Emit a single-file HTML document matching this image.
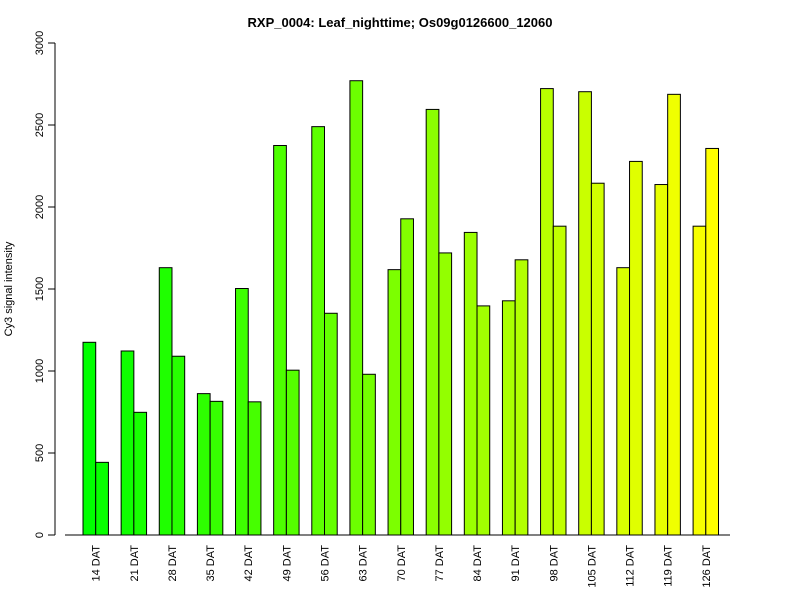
<!DOCTYPE html>
<html><head><meta charset="utf-8"><style>
body{margin:0;background:#fff}
svg{display:block;font-family:"Liberation Sans",Arial,sans-serif}
</style></head><body>
<svg id="chart" width="800" height="600" viewBox="0 0 800 600">
<rect width="800" height="600" fill="#fff"/>
<text x="400" y="27" text-anchor="middle" font-size="13" font-weight="bold">RXP_0004: Leaf_nighttime; Os09g0126600_12060</text>
<text transform="translate(12,289) rotate(-90)" text-anchor="middle" font-size="11">Cy3 signal intensity</text>
<g id="yaxis"></g>
<g id="bars"></g>
<g id="xlabels"></g>
</svg>
<script>
const categories=["14 DAT","21 DAT","28 DAT","35 DAT","42 DAT","49 DAT","56 DAT","63 DAT","70 DAT","77 DAT","84 DAT","91 DAT","98 DAT","105 DAT","112 DAT","119 DAT","126 DAT"];
const series1=[1175,1122,1630,862,1503,2375,2490,2770,1618,2595,1845,1428,2722,2703,1630,2137,1883];
const series2=[443,748,1090,815,812,1005,1352,980,1928,1720,1397,1678,1883,2145,2278,2687,2357];
const yTicks=[0,500,1000,1500,2000,2500,3000];
const NS="http://www.w3.org/2000/svg";
const y0=535,yTop=43,yMax=3000;
const yScale=v=>y0-(v/yMax)*(y0-yTop);
const unit=12.71,xStart=70.3;
const xScale=(g,s)=>xStart+unit*(1+g*3+s);
function mk(t,a){const e=document.createElementNS(NS,t);for(const k in a)e.setAttribute(k,a[k]);return e;}
const ya=document.getElementById('yaxis');
const axl=mk('line',{x1:55,x2:55,y1:yScale(yTicks[0]),y2:yScale(yTicks[yTicks.length-1]),stroke:'#000'});


ya.appendChild(axl);
yTicks.forEach(v=>{
  const l=mk('line',{x1:48,x2:55,y1:yScale(v),y2:yScale(v),stroke:'#000'});
  
  
  ya.appendChild(l);
  const t=mk('text',{transform:`translate(43,${yScale(v)}) rotate(-90)`,'text-anchor':'middle','font-size':'11'});
  t.textContent=v;
  
  
  ya.appendChild(t);
});
const base=mk('line',{x1:65,x2:730,y1:y0,y2:y0,stroke:'#000'});


ya.appendChild(base);
const bg=document.getElementById('bars');
const n=categories.length*2;
function col(i){const f=i/(n-1);return `rgb(${Math.round(255*f)},255,${Math.round(0)})`;}
categories.forEach((c,g)=>{
  [series1[g],series2[g]].forEach((v,s)=>{
    const x=xScale(g,s);
    const r=mk('rect',{x:x,y:yScale(v),width:unit,height:y0-yScale(v),fill:col(g*2+s),stroke:'#000','stroke-width':1});
    
    
    bg.appendChild(r);
  });
  const t=mk('text',{transform:`translate(${xScale(g,1)+4},545) rotate(-90)`,'text-anchor':'end','font-size':'11'});
  t.textContent=c;
  
  
  document.getElementById('xlabels').appendChild(t);
});
</script>
</body></html>
